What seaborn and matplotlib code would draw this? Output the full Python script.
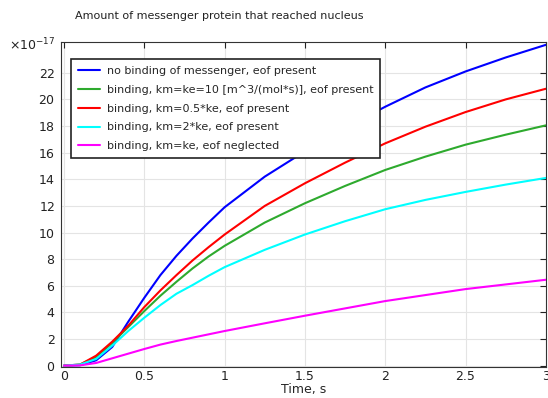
import numpy as np
import pandas as pd
import seaborn as sns
import matplotlib.pyplot as plt

# time axis (s)
t = [0, 0.1, 0.2, 0.3, 0.4, 0.5, 0.6, 0.7, 0.8, 0.9, 1.0,
     1.25, 1.5, 1.75, 2.0, 2.25, 2.5, 2.75, 3.0]

no_binding = [0, 0.03, 0.4, 1.4, 3.3, 5.1, 6.8, 8.25, 9.55, 10.75, 11.9,
              14.2, 16.1, 17.85, 19.45, 20.9, 22.1, 23.15, 24.1]
km_ke = [0, 0.08, 0.65, 1.7, 2.9, 4.1, 5.25, 6.3, 7.3, 8.2, 9.0,
         10.75, 12.2, 13.5, 14.7, 15.7, 16.6, 17.35, 18.05]
km_half = [0, 0.08, 0.75, 1.8, 3.0, 4.4, 5.65, 6.8, 7.9, 8.9, 9.85,
           12.0, 13.7, 15.25, 16.7, 17.95, 19.05, 20.0, 20.8]
km_double = [0, 0.08, 0.5, 1.5, 2.6, 3.6, 4.55, 5.4, 6.05, 6.75, 7.4,
             8.7, 9.85, 10.85, 11.75, 12.45, 13.05, 13.6, 14.1]
eof_neglected = [0, 0.02, 0.2, 0.55, 0.9, 1.25, 1.58, 1.85, 2.1, 2.35, 2.6,
                 3.18, 3.75, 4.3, 4.85, 5.3, 5.75, 6.1, 6.45]

labels = ["no binding of messenger, eof present",
          "binding, km=ke=10 [m^3/(mol*s)], eof present",
          "binding, km=0.5*ke, eof present",
          "binding, km=2*ke, eof present",
          "binding, km=ke, eof neglected"]
colors = ["#0000ff", "#2eaa2e", "#ff0000", "#00ffff", "#ff00ff"]

series = [no_binding, km_ke, km_half, km_double, eof_neglected]
frames = []
for lab, vals in zip(labels, series):
    frames.append(pd.DataFrame({"t": t, "amount": np.array(vals) * 1e-17, "case": lab}))
df = pd.concat(frames, ignore_index=True)

sns.set_theme(style="white")
plt.rcParams['font.family'] = ['DejaVu Sans']

fig, ax = plt.subplots(figsize=(5.48, 3.98), dpi=100)
fig.subplots_adjust(left=0.111, right=0.996, top=0.894, bottom=0.078)

sns.lineplot(data=df, x="t", y="amount", hue="case", palette=colors,
             hue_order=labels, linewidth=1.5, ax=ax)

ax.set_xlim(-0.02, 3.0)
ax.set_ylim(-0.1e-17, 24.3e-17)
ax.set_xticks([0, 0.5, 1, 1.5, 2, 2.5, 3])
ax.set_xticklabels(["0", "0.5", "1", "1.5", "2", "2.5", "3"])
ax.set_yticks(np.arange(0, 23, 2) * 1e-17)
ax.ticklabel_format(axis="y", style="sci", scilimits=(-17, -17), useMathText=True)
# draw the multiplier next to the top spine, like the original
ax.yaxis.get_offset_text().set_visible(False)
ax.text(-0.012, 0.99, r"$\times10^{-17}$", transform=ax.transAxes,
        ha="right", va="center", fontsize=9, color="#222222")

ax.grid(True, color="#e4e4e4", linewidth=0.8)
ax.tick_params(direction="in", length=4, width=0.8, top=True, right=True,
               labelsize=9, colors="#222222", pad=4)
ax.tick_params(axis="x", pad=2.5)
for s in ax.spines.values():
    s.set_color("#333333")
    s.set_linewidth(0.8)

ax.set_xlabel("Time, s", fontsize=9, labelpad=0)
ax.set_ylabel("")

leg = ax.legend(loc="upper left", fontsize=8, frameon=True, fancybox=False,
                framealpha=1, edgecolor="#222222", handlelength=2.0,
                borderpad=0.6, labelspacing=0.8, handletextpad=0.6,
                bbox_to_anchor=(0.01, 0.965))
leg.get_frame().set_linewidth(1.2)

fig.text(0.137, 0.96, "Amount of messenger protein that reached nucleus",
         fontsize=8, ha="left", va="center", color="#222222")

fig.savefig("out.png", dpi=100)
